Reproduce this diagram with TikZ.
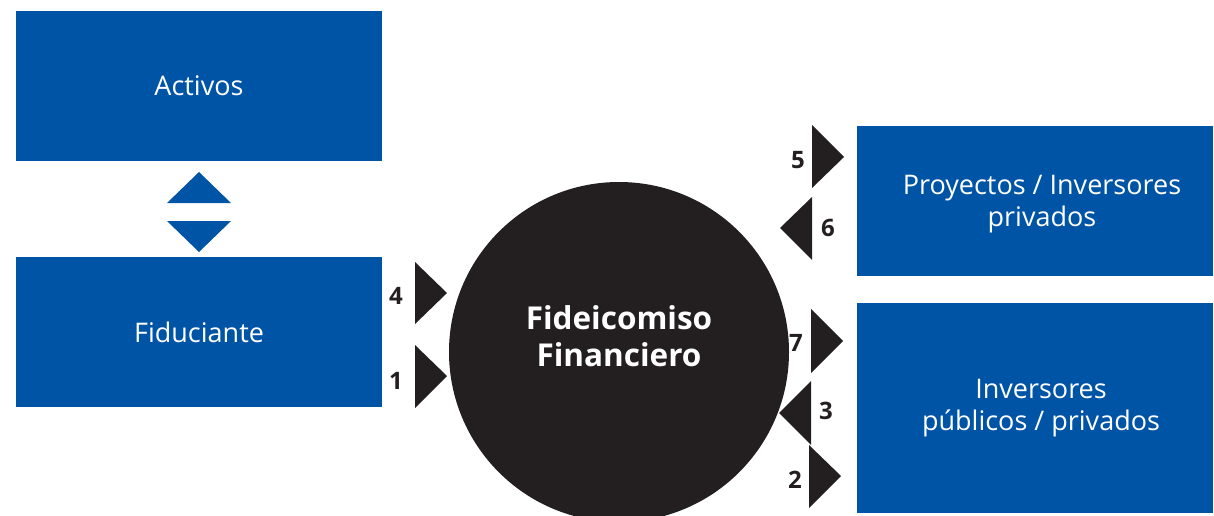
\documentclass[tikz,border=0pt]{standalone}
\usepackage{fontspec}
\setmainfont{Open Sans}
\usetikzlibrary{positioning}
\definecolor{azul}{RGB}{0,84,166}
\definecolor{negro}{RGB}{35,31,32}

\begin{document}
\begin{tikzpicture} [x=1pt,y=-1pt,{caja/.style={rectangle,fill=azul,inner sep=0pt,minimum width=366pt}},{texto/.style={text=white,align=center,inner sep=0pt,font=\fontsize{27}{32}\selectfont}},{num/.style={text=negro,inner sep=0pt,font=\bfseries\fontsize{24}{24}\selectfont}},{tri/.style={fill=negro}}]
	\useasboundingbox (0,0) rectangle (1214,515);
	%%cajas
	\node [caja, minimum height=150pt] (activos) at (199,86) {};
	\node [caja, minimum height=150pt] (fiduciante) at (199,332) {};
	\node [caja, minimum width=356pt, minimum height=150pt] (proyectos) at (1035,201) {};
	\node [caja, minimum width=356pt, minimum height=210pt] (inversores) at (1035,408) {};
	\node [texto] (t-activos) at (activos.center) {Activos};
	\node [texto] (t-fiduciante) at (fiduciante.center) {Fiduciante};
	\node [texto] (t-proyectos) at ([xshift=7pt,yshift=-3pt]proyectos.center) {Proyectos / Inversores\\privados};
	\node [texto] (t-inversores) at ([xshift=6pt]inversores.center) {Inversores\\públicos / privados};
	%%fideicomiso
	\node [circle, fill=negro, minimum size=340pt, inner sep=0pt] (fideicomiso) at (619,352) {};
	\node [texto, font=\bfseries\fontsize{31.5}{37}\selectfont] (t-fideicomiso) at ([yshift=16pt]fideicomiso.center) {Fideicomiso\\Financiero};
	%%doble flecha
	\fill [azul] (167,203) -- (199,172) -- (231,203) -- cycle;
	\fill [azul] (167,221) -- (199,252) -- (231,221) -- cycle;
	%%flechas izquierda
	\fill [tri] (415,262) -- (447,293) -- (415,324) -- cycle;
	\fill [tri] (415,345) -- (447,376) -- (415,408) -- cycle;
	\node [num] (n4) at (396,296) {4};
	\node [num] (n1) at (396,381) {1};
	%%flechas derecha
	\fill [tri] (812,125) -- (844,157) -- (812,188) -- cycle;
	\fill [tri] (812,197) -- (780,228) -- (812,260) -- cycle;
	\fill [tri] (811,309) -- (843,341) -- (811,373) -- cycle;
	\fill [tri] (811,381) -- (779,413) -- (811,445) -- cycle;
	\fill [tri] (809,445) -- (841,476) -- (809,508) -- cycle;
	\node [num] (n5) at (798,160) {5};
	\node [num] (n6) at (828,228) {6};
	\node [num] (n7) at (796,343) {7};
	\node [num] (n3) at (826,411) {3};
	\node [num] (n2) at (795,480) {2};
\end{tikzpicture}
\end{document}
